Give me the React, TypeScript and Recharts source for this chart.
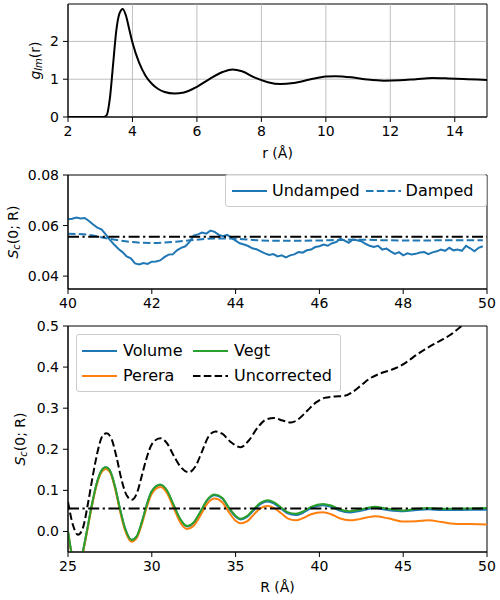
import React from 'react';
import {
  LineChart,
  Line,
  XAxis,
  YAxis,
  ReferenceLine,
  ReferenceArea,
  Legend,
  Label
} from 'recharts';

const FONT = '"DejaVu Sans", sans-serif';
const BLUE = '#1f77b4';
const ORANGE = '#ff7f0e';
const GREEN = '#2ca02c';
const DASH = '7.5 3.3';
const DASHDOT = '11 3.5 2.2 3.5';

// top panel: g_lm(r)
const rTicks = [2, 4, 6, 8, 10, 12, 14];
const gTicks = [0, 1, 2];
const gLm: [number, number][] = [
  [2.0, 0], [2.5, 0], [3.0, 0], [3.1, 0.0], [3.2, 0.05], [3.3, 0.5], [3.4, 1.4],
  [3.5, 2.3], [3.6, 2.75], [3.7, 2.86], [3.8, 2.68], [3.9, 2.32], [4.0, 1.97],
  [4.2, 1.45], [4.4, 1.1], [4.6, 0.88], [4.8, 0.74], [5.0, 0.66], [5.3, 0.62],
  [5.6, 0.65], [6.0, 0.8], [6.4, 1.01], [6.8, 1.19], [7.1, 1.26], [7.4, 1.21],
  [7.8, 1.04], [8.2, 0.92], [8.6, 0.87], [9.0, 0.9], [9.5, 0.99], [10.0, 1.07],
  [10.3, 1.08], [10.8, 1.05], [11.3, 0.99], [11.8, 0.96], [12.3, 0.97],
  [12.8, 1.0], [13.3, 1.03], [13.8, 1.02], [14.4, 1.0], [15.0, 0.98]
];

// middle panel: S_c(0; R) tail
const tailTicksX = [40, 42, 44, 46, 48, 50];
const tailTicksY = [0.04, 0.06, 0.08];
const sInf = 0.0556;
const undamped: [number, number][] = [
  [40.0, 0.0625], [40.1, 0.0627], [40.2, 0.0632], [40.3, 0.0628], [40.4, 0.063],
  [40.5, 0.0618], [40.6, 0.0604], [40.7, 0.0592], [40.8, 0.0585], [40.9, 0.0565],
  [41.0, 0.0543], [41.1, 0.0525], [41.2, 0.0508], [41.3, 0.0495], [41.4, 0.0478],
  [41.5, 0.047], [41.6, 0.045], [41.7, 0.0446], [41.8, 0.0452], [41.9, 0.0448],
  [42.0, 0.0457], [42.1, 0.0458], [42.2, 0.0462], [42.3, 0.0475], [42.4, 0.0485],
  [42.5, 0.0486], [42.6, 0.0502], [42.7, 0.0512], [42.8, 0.0518], [42.9, 0.0535],
  [43.0, 0.056], [43.1, 0.0565], [43.2, 0.0572], [43.3, 0.0568], [43.4, 0.058],
  [43.5, 0.0575], [43.6, 0.0563], [43.7, 0.0558], [43.8, 0.0563], [43.9, 0.0552],
  [44.0, 0.054], [44.1, 0.053], [44.2, 0.0525], [44.3, 0.0519], [44.4, 0.051],
  [44.5, 0.0506], [44.6, 0.0498], [44.7, 0.049], [44.8, 0.0484], [44.9, 0.0487],
  [45.0, 0.0478], [45.1, 0.0482], [45.2, 0.0474], [45.3, 0.0482], [45.4, 0.0486],
  [45.5, 0.0495], [45.6, 0.0493], [45.7, 0.0502], [45.8, 0.0505], [45.9, 0.0515],
  [46.0, 0.0518], [46.1, 0.0525], [46.2, 0.052], [46.3, 0.053], [46.4, 0.0535],
  [46.5, 0.0548], [46.6, 0.054], [46.7, 0.0532], [46.8, 0.0545], [46.9, 0.0542],
  [47.0, 0.0538], [47.1, 0.0528], [47.2, 0.052], [47.3, 0.0515], [47.4, 0.052],
  [47.5, 0.0505], [47.6, 0.0509], [47.7, 0.0498], [47.8, 0.0488], [47.9, 0.0495],
  [48.0, 0.0482], [48.1, 0.049], [48.2, 0.0486], [48.3, 0.0488], [48.4, 0.0493],
  [48.5, 0.0495], [48.6, 0.0487], [48.7, 0.0494], [48.8, 0.0498], [48.9, 0.0505],
  [49.0, 0.05], [49.1, 0.0512], [49.2, 0.0502], [49.3, 0.0505], [49.4, 0.05],
  [49.5, 0.052], [49.6, 0.051], [49.7, 0.0498], [49.8, 0.0512], [49.9, 0.0518]
];
const damped: [number, number][] = [
  [40.0, 0.0568], [40.5, 0.0563], [41.0, 0.0547], [41.5, 0.0535], [42.0, 0.0531],
  [42.5, 0.0535], [43.0, 0.0543], [43.5, 0.0549], [44.0, 0.0548], [44.5, 0.0542],
  [45.0, 0.054], [45.5, 0.054], [46.0, 0.0541], [46.5, 0.0543], [47.0, 0.0544],
  [47.5, 0.0542], [48.0, 0.0541], [48.5, 0.0541], [49.0, 0.0542], [49.9, 0.0542]
];
const tailOrder = ['Undamped', 'Damped'];

// bottom panel: corrections
const bigTicksX = [25, 30, 35, 40, 45, 50];
const bigTicksY = [0.0, 0.1, 0.2, 0.3, 0.4, 0.5];
const vegt: [number, number][] = [
  [25.0, 0.0], [25.2, -0.05], [25.5, -0.095], [25.8, -0.065], [26.1, -0.005],
  [26.4, 0.06], [26.7, 0.115], [27.0, 0.148], [27.25, 0.156], [27.5, 0.148],
  [27.8, 0.11], [28.1, 0.055], [28.4, 0.008], [28.8, -0.021], [29.1, -0.012],
  [29.4, 0.022], [29.7, 0.065], [30.0, 0.098], [30.5, 0.114], [30.9, 0.1],
  [31.3, 0.065], [31.7, 0.03], [32.1, 0.013], [32.5, 0.022], [32.9, 0.048],
  [33.3, 0.077], [33.75, 0.09], [34.2, 0.082], [34.6, 0.058], [35.0, 0.038],
  [35.3, 0.031], [35.7, 0.038], [36.1, 0.055], [36.5, 0.07], [36.9, 0.076],
  [37.3, 0.071], [37.7, 0.059], [38.1, 0.047], [38.6, 0.043], [39.0, 0.048],
  [39.5, 0.06], [40.2, 0.067], [40.7, 0.063], [41.2, 0.054], [41.8, 0.049],
  [42.4, 0.053], [43.3, 0.06], [44.1, 0.055], [45.0, 0.051], [45.8, 0.055],
  [46.5, 0.057], [47.3, 0.055], [48.0, 0.055], [49.0, 0.056], [50.0, 0.057]
];
const volume: [number, number][] = [
  [25.0, 0.0], [25.2, -0.05], [25.5, -0.095], [25.8, -0.065], [26.1, -0.005],
  [26.4, 0.06], [26.7, 0.115], [27.0, 0.148], [27.25, 0.156], [27.5, 0.148],
  [27.8, 0.11], [28.1, 0.055], [28.4, 0.008], [28.8, -0.021], [29.1, -0.012],
  [29.4, 0.022], [29.7, 0.065], [30.0, 0.098], [30.5, 0.113], [30.9, 0.099],
  [31.3, 0.064], [31.7, 0.029], [32.1, 0.012], [32.5, 0.021], [32.9, 0.047],
  [33.3, 0.075], [33.75, 0.088], [34.2, 0.08], [34.6, 0.056], [35.0, 0.036],
  [35.3, 0.029], [35.7, 0.036], [36.1, 0.052], [36.5, 0.067], [36.9, 0.073],
  [37.3, 0.068], [37.7, 0.056], [38.1, 0.044], [38.6, 0.04], [39.0, 0.045],
  [39.5, 0.057], [40.2, 0.064], [40.7, 0.06], [41.2, 0.051], [41.8, 0.046],
  [42.4, 0.05], [43.3, 0.057], [44.1, 0.052], [45.0, 0.049], [45.8, 0.052],
  [46.5, 0.054], [47.3, 0.052], [48.0, 0.052], [49.0, 0.053], [50.0, 0.053]
];
const perera: [number, number][] = [
  [25.0, -0.002], [25.2, -0.052], [25.5, -0.097], [25.8, -0.068], [26.1, -0.008],
  [26.4, 0.056], [26.7, 0.111], [27.0, 0.144], [27.25, 0.152], [27.5, 0.144],
  [27.8, 0.106], [28.1, 0.05], [28.4, 0.003], [28.8, -0.025], [29.1, -0.016],
  [29.4, 0.017], [29.7, 0.059], [30.0, 0.092], [30.5, 0.108], [30.9, 0.094],
  [31.3, 0.058], [31.7, 0.022], [32.1, 0.006], [32.5, 0.014], [32.9, 0.039],
  [33.3, 0.067], [33.75, 0.08], [34.2, 0.071], [34.6, 0.047], [35.0, 0.026],
  [35.3, 0.02], [35.7, 0.025], [36.1, 0.042], [36.5, 0.057], [36.9, 0.062],
  [37.3, 0.057], [37.7, 0.045], [38.1, 0.032], [38.6, 0.027], [39.0, 0.032],
  [39.5, 0.042], [40.2, 0.047], [40.7, 0.042], [41.2, 0.032], [41.8, 0.027],
  [42.4, 0.03], [43.3, 0.037], [44.1, 0.032], [45.0, 0.024], [45.8, 0.025],
  [46.5, 0.027], [47.3, 0.023], [48.0, 0.019], [49.0, 0.018], [50.0, 0.017]
];
const uncorrected: [number, number][] = [
  [25.0, 0.072], [25.3, 0.015], [25.6, -0.008], [25.9, 0.01], [26.2, 0.07],
  [26.5, 0.14], [26.8, 0.2], [27.05, 0.232], [27.3, 0.239], [27.6, 0.225],
  [27.9, 0.18], [28.2, 0.125], [28.5, 0.088], [28.8, 0.077], [29.1, 0.092],
  [29.4, 0.135], [29.7, 0.18], [30.0, 0.212], [30.5, 0.227], [30.9, 0.215],
  [31.3, 0.185], [31.7, 0.158], [32.2, 0.144], [32.6, 0.158], [33.0, 0.195],
  [33.4, 0.232], [33.8, 0.243], [34.2, 0.238], [34.7, 0.218], [35.3, 0.205],
  [35.8, 0.222], [36.3, 0.252], [36.8, 0.272], [37.3, 0.276], [37.8, 0.27],
  [38.3, 0.265], [38.8, 0.275], [39.3, 0.295], [39.8, 0.314], [40.3, 0.325],
  [40.8, 0.328], [41.5, 0.33], [42.0, 0.34], [42.5, 0.356], [43.0, 0.372],
  [43.6, 0.384], [44.2, 0.392], [44.8, 0.402], [45.3, 0.415], [45.8, 0.43],
  [46.3, 0.443], [46.8, 0.455], [47.3, 0.466], [47.8, 0.478], [48.3, 0.494],
  [48.8, 0.51], [49.4, 0.528], [50.0, 0.545]
];
const bigOrder = ['Volume', 'Perera', 'Vegt', 'Uncorrected'];

const pts = (arr: [number, number][]) => arr.map(([x, y]) => ({ x, y }));

const tickStyle = { fill: '#000', fontSize: 14, fontFamily: FONT };
const axisCommon = {
  stroke: '#000',
  tickSize: 5,
  tickMargin: 4,
  tick: tickStyle,
  tickLine: { stroke: '#000' },
  axisLine: { stroke: '#000' }
};

const YTitle = ({ viewBox, x, main, sub, rest }: any) => {
  const cy = viewBox ? viewBox.y + viewBox.height / 2 : 0;
  return (
    <text
      x={x}
      y={cy}
      transform={`rotate(-90 ${x} ${cy})`}
      textAnchor="middle"
      dominantBaseline="central"
      fontFamily={FONT}
      fontSize={14}
      fill="#000"
    >
      <tspan fontStyle="italic">{main}</tspan>
      <tspan fontStyle="italic" fontSize={10} dy={3}>{sub}</tspan>
      <tspan dy={-3}>{rest}</tspan>
    </text>
  );
};

const XTitle = ({ viewBox, y, text }: any) => {
  const cx = viewBox ? viewBox.x + viewBox.width / 2 : 0;
  return (
    <text x={cx} y={y} textAnchor="middle" fontFamily={FONT} fontSize={14} fill="#000">
      {text}
    </text>
  );
};

const Sample = ({ color, dash, width }: any) => (
  <svg width={width} height={6} style={{ display: 'block' }}>
    <line x1={0} y1={3} x2={width} y2={3} stroke={color} strokeWidth={2} strokeDasharray={dash} />
  </svg>
);

const boxStyle: React.CSSProperties = {
  border: '1px solid #cccccc',
  borderRadius: 3,
  background: 'rgba(255,255,255,0.8)',
  boxSizing: 'border-box',
  fontFamily: FONT,
  fontSize: 16,
  color: '#000'
};

const ordered = (payload: any[], order: string[]) =>
  [...(payload || [])].sort((a, b) => order.indexOf(a.value) - order.indexOf(b.value));

const TailLegend = ({ payload }: any) => (
  <div style={{ ...boxStyle, width: 262, height: 33, display: 'flex', alignItems: 'center', paddingLeft: 6 }}>
    {ordered(payload, tailOrder).map((p: any, i: number) => (
      <div key={i} style={{ display: 'flex', alignItems: 'center', marginRight: 6 }}>
        <Sample color={p.color} dash={p.payload?.strokeDasharray} width={35} />
        <span style={{ marginLeft: 5, lineHeight: '18px' }}>{p.value}</span>
      </div>
    ))}
  </div>
);

const BigLegend = ({ payload }: any) => (
  <div
    style={{
      ...boxStyle,
      width: 265,
      height: 58,
      display: 'grid',
      gridAutoFlow: 'column',
      gridTemplateRows: '25px 25px',
      gridTemplateColumns: '111px 150px',
      alignContent: 'center',
      paddingLeft: 5
    }}
  >
    {ordered(payload, bigOrder).map((p: any, i: number) => (
      <div key={i} style={{ display: 'flex', alignItems: 'center' }}>
        <Sample color={p.color} dash={p.payload?.strokeDasharray} width={35} />
        <span style={{ marginLeft: 6, lineHeight: '18px' }}>{p.value}</span>
      </div>
    ))}
  </div>
);

export default function App() {
  return (
    <div style={{ position: 'absolute', left: 0, top: 0, width: 500, height: 600, background: '#fff' }}>
      <div style={{ position: 'absolute', left: 0, top: 0 }}>
        <LineChart width={500} height={165} margin={{ top: 4, right: 13, bottom: 0, left: 0 }}>
          <XAxis
            type="number"
            dataKey="x"
            domain={[2, 15]}
            ticks={rTicks}
            allowDataOverflow
            height={48}
            {...axisCommon}
          >
            <Label content={(p: any) => <XTitle viewBox={p.viewBox} y={158} text="r (Å)" />} />
          </XAxis>
          <YAxis
            type="number"
            dataKey="y"
            domain={[0, 2.99]}
            ticks={gTicks}
            allowDataOverflow
            width={68}
            {...axisCommon}
          >
            <Label content={(p: any) => <YTitle viewBox={p.viewBox} x={35} main="g" sub="lm" rest="(r)" />} />
          </YAxis>
          {rTicks.map((t) => (
            <ReferenceLine key={'gx' + t} x={t} stroke="#b0b0b0" strokeWidth={0.8} />
          ))}
          {gTicks.map((t) => (
            <ReferenceLine key={'gy' + t} y={t} stroke="#b0b0b0" strokeWidth={0.8} />
          ))}
          <ReferenceArea x1={2} x2={15} y1={0} y2={2.99} fill="none" stroke="#000" strokeWidth={1} />
          <Line
            data={pts(gLm)}
            dataKey="y"
            type="monotone"
            stroke="#000"
            strokeWidth={2}
            dot={false}
            isAnimationActive={false}
          />
        </LineChart>
      </div>

      <div style={{ position: 'absolute', left: 0, top: 165 }}>
        <LineChart width={500} height={150} margin={{ top: 10, right: 13, bottom: 0, left: 0 }}>
          <XAxis
            type="number"
            dataKey="x"
            domain={[40, 50]}
            ticks={tailTicksX}
            allowDataOverflow
            height={26}
            {...axisCommon}
          />
          <YAxis
            type="number"
            dataKey="y"
            domain={[0.0349, 0.08]}
            ticks={tailTicksY}
            tickFormatter={(v: number) => v.toFixed(2)}
            allowDataOverflow
            width={68}
            {...axisCommon}
          >
            <Label content={(p: any) => <YTitle viewBox={p.viewBox} x={13} main="S" sub="c" rest="(0; R)" />} />
          </YAxis>
          <ReferenceArea x1={40} x2={50} y1={0.0349} y2={0.08} fill="none" stroke="#000" strokeWidth={1} />
          <Line
            data={pts(undamped)}
            dataKey="y"
            name="Undamped"
            type="linear"
            stroke={BLUE}
            strokeWidth={2}
            dot={false}
            isAnimationActive={false}
          />
          <Line
            data={pts(damped)}
            dataKey="y"
            name="Damped"
            type="monotone"
            stroke={BLUE}
            strokeWidth={2}
            strokeDasharray={DASH}
            dot={false}
            isAnimationActive={false}
          />
          <ReferenceLine y={sInf} stroke="#000" strokeWidth={2} strokeDasharray={DASHDOT} />
          <Legend
            layout="vertical"
            align="center"
            verticalAlign="middle"
            wrapperStyle={{ left: 225, top: 9, width: 262 }}
            content={TailLegend}
          />
        </LineChart>
      </div>

      <div style={{ position: 'absolute', left: 0, top: 315 }}>
        <LineChart width={500} height={285} margin={{ top: 11, right: 13, bottom: 0, left: 0 }}>
          <XAxis
            type="number"
            dataKey="x"
            domain={[25, 50]}
            ticks={bigTicksX}
            allowDataOverflow
            height={48}
            {...axisCommon}
          >
            <Label content={(p: any) => <XTitle viewBox={p.viewBox} y={277} text="R (Å)" />} />
          </XAxis>
          <YAxis
            type="number"
            dataKey="y"
            domain={[-0.05, 0.5]}
            ticks={bigTicksY}
            tickFormatter={(v: number) => v.toFixed(1)}
            allowDataOverflow
            width={68}
            {...axisCommon}
          >
            <Label content={(p: any) => <YTitle viewBox={p.viewBox} x={20} main="S" sub="c" rest="(0; R)" />} />
          </YAxis>
          <ReferenceArea x1={25} x2={50} y1={-0.05} y2={0.5} fill="none" stroke="#000" strokeWidth={1} />
          <Line
            data={pts(volume)}
            dataKey="y"
            name="Volume"
            type="monotone"
            stroke={BLUE}
            strokeWidth={2}
            dot={false}
            isAnimationActive={false}
          />
          <Line
            data={pts(perera)}
            dataKey="y"
            name="Perera"
            type="monotone"
            stroke={ORANGE}
            strokeWidth={2}
            dot={false}
            isAnimationActive={false}
          />
          <Line
            data={pts(vegt)}
            dataKey="y"
            name="Vegt"
            type="monotone"
            stroke={GREEN}
            strokeWidth={2}
            dot={false}
            isAnimationActive={false}
          />
          <Line
            data={pts(uncorrected)}
            dataKey="y"
            name="Uncorrected"
            type="monotone"
            stroke="#000"
            strokeWidth={2}
            strokeDasharray={DASH}
            dot={false}
            isAnimationActive={false}
          />
          <ReferenceLine y={sInf} stroke="#000" strokeWidth={2} strokeDasharray={DASHDOT} />
          <Legend
            layout="vertical"
            align="center"
            verticalAlign="middle"
            wrapperStyle={{ left: 76, top: 19, width: 265 }}
            content={BigLegend}
          />
        </LineChart>
      </div>
    </div>
  );
}
